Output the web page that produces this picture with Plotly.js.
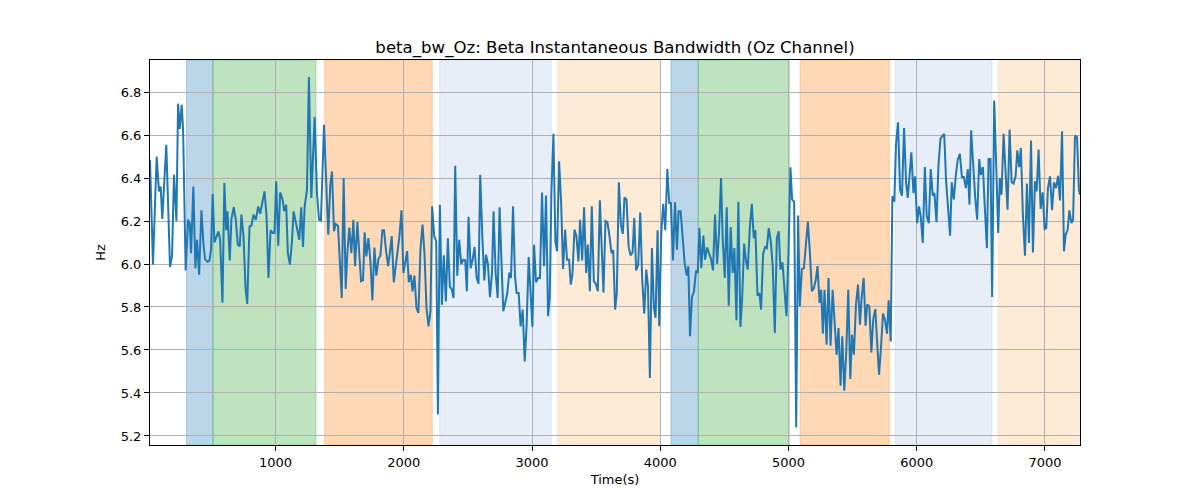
<!DOCTYPE html>
<html>
<head>
<meta charset="utf-8">
<script src="https://cdn.plot.ly/plotly-3.0.1.min.js"></script>
<style>body{margin:0}#myDiv{width:1200px;height:500px}</style>
</head>
<body>
<div id="myDiv"></div>
<script>
// time stamps (s) and bandwidth (Hz)
var timeSec = [
  21, 44, 73, 91, 104, 117, 148, 177, 193, 208, 227, 240, 253, 268, 279, 299, 318, 331, 341, 359,
  375, 388, 404, 422, 437, 450, 469, 484, 497, 510, 523, 539, 555, 568, 586, 601, 615, 625, 643, 656,
  674, 690, 706, 721, 734, 750, 766, 779, 797, 812, 828, 846, 865, 880, 898, 914, 930, 945, 961, 979,
  992, 1005, 1021, 1036, 1055, 1068, 1083, 1096, 1112, 1128, 1141, 1156, 1172, 1185, 1200, 1214, 1227, 1245,
  1260, 1279, 1305, 1323, 1339, 1354, 1378, 1396, 1411, 1427, 1440, 1456, 1469, 1487, 1500, 1516, 1531, 1547,
  1560, 1575, 1591, 1607, 1620, 1638, 1654, 1667, 1682, 1695, 1708, 1724, 1740, 1755, 1771, 1786, 1802, 1818,
  1833, 1846, 1862, 1878, 1891, 1906, 1922, 1937, 1953, 1966, 1982, 1997, 2013, 2026, 2039, 2055, 2068, 2083,
  2099, 2114, 2130, 2146, 2161, 2177, 2193, 2208, 2221, 2237, 2253, 2266, 2281, 2297, 2312, 2328, 2344, 2359,
  2375, 2388, 2401, 2417, 2432, 2448, 2464, 2479, 2492, 2505, 2521, 2536, 2552, 2568, 2583, 2596, 2612, 2628,
  2641, 2656, 2672, 2688, 2700, 2716, 2732, 2747, 2763, 2776, 2792, 2807, 2823, 2836, 2852, 2867, 2880, 2896,
  2911, 2927, 2943, 2958, 2974, 2990, 3003, 3016, 3031, 3047, 3062, 3078, 3094, 3109, 3125, 3138, 3151, 3167,
  3182, 3195, 3211, 3227, 3242, 3258, 3273, 3289, 3302, 3315, 3331, 3346, 3362, 3375, 3391, 3406, 3422, 3435,
  3451, 3466, 3482, 3497, 3513, 3529, 3544, 3557, 3573, 3588, 3604, 3620, 3633, 3648, 3661, 3677, 3693, 3708,
  3721, 3737, 3753, 3768, 3784, 3797, 3812, 3828, 3844, 3859, 3875, 3891, 3904, 3919, 3935, 3950, 3963, 3979,
  3992, 4008, 4023, 4039, 4055, 4070, 4083, 4099, 4115, 4130, 4143, 4159, 4174, 4190, 4206, 4219, 4232, 4247,
  4263, 4279, 4292, 4305, 4320, 4336, 4349, 4365, 4380, 4396, 4411, 4427, 4443, 4458, 4474, 4487, 4503, 4518,
  4534, 4549, 4565, 4578, 4594, 4609, 4625, 4638, 4654, 4667, 4682, 4698, 4714, 4729, 4742, 4758, 4773, 4786,
  4802, 4818, 4831, 4846, 4862, 4877, 4893, 4909, 4924, 4937, 4953, 4969, 4984, 5000, 5015, 5028, 5044, 5060,
  5075, 5088, 5104, 5120, 5135, 5151, 5167, 5182, 5198, 5213, 5226, 5242, 5255, 5268, 5281, 5297, 5312, 5328,
  5344, 5359, 5375, 5390, 5406, 5419, 5435, 5450, 5466, 5482, 5495, 5510, 5526, 5542, 5557, 5570, 5586, 5601,
  5614, 5630, 5646, 5661, 5677, 5690, 5706, 5721, 5737, 5752, 5768, 5781, 5797, 5810, 5825, 5838, 5854, 5870,
  5885, 5901, 5917, 5930, 5945, 5958, 5974, 5987, 6003, 6018, 6031, 6047, 6063, 6078, 6094, 6109, 6125, 6138,
  6154, 6169, 6185, 6200, 6214, 6229, 6245, 6260, 6273, 6289, 6305, 6320, 6336, 6352, 6367, 6383, 6398, 6411,
  6424, 6440, 6456, 6471, 6487, 6500, 6516, 6531, 6547, 6560, 6575, 6588, 6604, 6620, 6635, 6648, 6661, 6677,
  6693, 6708, 6724, 6740, 6755, 6771, 6784, 6799, 6812, 6828, 6844, 6859, 6875, 6891, 6906, 6922, 6935, 6950,
  6966, 6982, 6997, 7010, 7023, 7039, 7055, 7070, 7086, 7102, 7117, 7133, 7148, 7161, 7177, 7190, 7206, 7219,
  7234, 7250, 7265, 7273
];
var bandwidthHz = [
  6.485, 5.997, 6.50, 6.338, 6.36, 6.21, 6.555, 5.986, 6.04, 6.415, 6.20, 6.746, 6.628, 6.74, 6.625, 5.97, 6.206, 6.19, 6.05, 6.36,
  5.98, 6.113, 5.95, 6.25, 6.10, 6.023, 6.01, 6.015, 6.067, 6.326, 6.10, 6.13, 6.152, 6.113, 5.82, 6.377, 6.157, 6.245, 6.017, 6.21,
  6.264, 6.206, 6.09, 6.082, 6.23, 6.13, 5.888, 5.814, 6.175, 6.178, 6.23, 6.206, 6.268, 6.234, 6.30, 6.338, 6.222, 5.935, 6.157, 6.144,
  6.144, 6.385, 6.085, 6.333, 6.30, 6.245, 6.276, 6.05, 5.997, 6.105, 6.245, 6.194, 6.147, 6.113, 6.264, 6.079, 6.268, 6.345,
  6.87, 6.307, 6.684, 6.33, 6.206, 6.203, 6.648, 6.36, 6.136, 6.369, 6.43, 6.152, 6.186, 6.178, 6.02, 5.842, 6.40, 5.884,
  6.05, 6.17, 6.05, 6.206, 5.99, 6.195, 6.035, 5.92, 5.924, 6.147, 6.035, 6.12, 6.012, 5.831, 6.077, 5.946, 6.023, 6.04,
  6.157, 6.157, 6.06, 5.99, 6.05, 6.13, 5.915, 5.986, 6.054, 6.13, 6.25, 5.958, 6.012, 6.06, 5.915, 5.95, 5.873, 5.946,
  5.795, 5.772, 6.067, 6.183, 6.054, 5.795, 5.71, 5.78, 6.268, 6.13, 6.105, 5.30, 6.276, 5.81, 6.04, 5.826, 6.12, 5.896,
  5.88, 5.842, 6.457, 5.946, 6.113, 6.0, 6.02, 6.017, 5.873, 6.22, 5.98, 6.017, 6.079, 5.935, 5.908, 6.415, 6.132, 5.924,
  6.043, 6.0, 5.846, 5.958, 6.245, 5.96, 5.842, 6.264, 5.99, 5.78, 5.822, 5.865, 5.96, 5.935, 6.268, 5.946, 5.865, 5.865,
  5.71, 5.788, 5.547, 5.718, 6.032, 5.865, 5.707, 6.09, 5.915, 5.935, 5.935, 6.333, 5.99, 6.318, 5.757, 5.842, 6.33, 6.606,
  6.105, 6.059, 6.478, 6.284, 5.977, 6.16, 6.02, 6.02, 5.904, 5.95, 6.16, 6.13, 6.012, 6.206, 6.017, 6.264, 5.958, 6.09,
  5.873, 6.268, 5.92, 5.908, 5.873, 6.296, 6.02, 5.868, 6.20, 6.195, 6.13, 6.05, 6.064, 5.788, 5.865, 6.38, 6.183, 6.14,
  6.31, 6.30, 6.082, 6.04, 6.054, 6.214, 5.97, 5.997, 6.24, 5.927, 5.769, 5.974, 5.896, 5.47, 6.074, 5.80, 5.749, 6.157,
  5.71, 6.144, 6.28, 6.157, 6.442, 6.284, 6.284, 6.017, 6.287, 6.067, 6.245, 6.245, 6.13, 6.005, 5.946, 5.99, 5.664, 5.846,
  5.873, 5.97, 5.958, 6.167, 5.98, 6.132, 6.02, 6.077, 6.05, 6.023, 5.97, 6.23, 6.0, 6.147, 6.40, 6.113, 5.935, 6.264,
  5.806, 6.172, 5.958, 6.074, 5.738, 6.29, 5.707, 5.834, 6.095, 6.02, 5.974, 6.167, 6.28, 6.12, 6.157, 5.853, 5.865, 5.788,
  6.048, 6.079, 6.074, 6.167, 6.105, 5.99, 5.679, 6.12, 6.152, 5.974, 6.008, 5.873, 5.757, 6.059, 6.45, 6.30, 6.29, 5.24,
  6.225, 5.803, 5.977, 5.98, 6.082, 6.198, 6.05, 5.873, 5.888, 5.927, 5.99, 5.819, 5.88, 5.676, 5.88, 5.625, 5.935, 5.62,
  5.88, 5.726, 5.578, 5.702, 5.434, 5.664, 5.411, 5.586, 5.88, 5.465, 5.671, 5.578, 5.811, 5.904, 5.718, 5.842, 5.935, 5.713,
  5.811, 5.803, 5.589, 5.744, 5.79, 5.648, 5.485, 5.609, 5.769, 5.74, 5.676, 5.831, 5.64, 6.315, 6.29, 6.555, 6.659, 6.345,
  6.318, 6.633, 6.377, 6.307, 6.423, 6.52, 6.33, 6.408, 6.19, 6.268, 6.222, 6.098, 6.451, 6.222, 6.19, 6.442, 6.318, 6.33,
  6.194, 6.454, 6.583, 6.594, 6.606, 6.385, 6.253, 6.132, 6.38, 6.30, 6.415, 6.485, 6.513, 6.405, 6.405, 6.353, 6.442, 6.276,
  6.622, 6.44, 6.307, 6.206, 6.488, 6.415, 6.451, 6.26, 6.074, 6.488, 6.488, 5.846, 6.761, 6.454, 6.144, 6.40, 6.322, 6.606,
  6.423, 6.253, 6.625, 6.38, 6.374, 6.408, 6.529, 6.451, 6.54, 6.222, 6.039, 6.374, 6.098, 6.575, 6.054, 6.385, 6.338, 6.532,
  6.256, 6.333, 6.163, 6.167, 6.353, 6.408, 6.25, 6.38, 6.353, 6.41, 6.296, 6.617, 6.059, 6.136, 6.16, 6.25, 6.19, 6.206,
  6.597, 6.59, 6.343, 6.322
];

// shaded segments
var segStart = [306, 512, 1383, 2280, 3200, 4083, 4296, 5090, 5832, 6636];
var segEnd   = [512, 1316, 2222, 3150, 4002, 4296, 5006, 5786, 6587, 7400];
var segKind  = ['blue', 'green', 'orange', 'lightblue', 'lightorange', 'blue', 'green', 'orange', 'lightblue', 'lightorange'];

var kindColor = {
  blue: 'rgba(31,119,180,0.3)',
  green: 'rgba(44,160,44,0.3)',
  orange: 'rgba(255,127,14,0.3)',
  lightblue: 'rgba(174,199,232,0.3)',
  lightorange: 'rgba(255,187,120,0.3)'
};

var shapes = []
for (var i = 0; i < segStart.length; i++) {
  shapes.push({
    type: 'rect', xref: 'x', yref: 'paper', layer: 'below',
    x0: segStart[i], x1: segEnd[i], y0: 0, y1: 1,
    fillcolor: kindColor[segKind[i]],
    line: {width: 1, color: kindColor[segKind[i]]}
  })
}

var trace1 = {
  x: timeSec,
  y: bandwidthHz,
  type: 'scatter',
  mode: 'lines',
  line: {color: '#1f77b4', width: 2},
  hoverinfo: 'skip'
};

var font = {family: 'DejaVu Sans, sans-serif', size: 13, color: '#000'};

var layout = {
  width: 1200, height: 500,
  margin: {l: 150, r: 120, t: 60, b: 55},
  paper_bgcolor: '#fff', plot_bgcolor: '#fff',
  showlegend: false,
  font: font,
  title: {text: 'beta_bw_Oz: Beta Instantaneous Bandwidth (Oz Channel)', font: {family: 'DejaVu Sans, sans-serif', size: 16.6, color: '#000'}, x: 0.5, xref: 'paper', y: 1, yref: 'paper', yanchor: 'bottom', pad: {b: 7}},
  xaxis: {
    range: [21, 7273], tickvals: [1000, 2000, 3000, 4000, 5000, 6000, 7000],
    showgrid: true, gridcolor: '#b0b0b0', gridwidth: 1,
    showline: true, linecolor: '#000', linewidth: 1, mirror: true,
    ticks: 'outside', ticklen: 5, tickcolor: '#000', zeroline: false,
    title: {text: 'Time(s)', font: font, standoff: 6}
  },
  yaxis: {
    range: [5.158, 6.949], tickvals: [5.2, 5.4, 5.6, 5.8, 6.0, 6.2, 6.4, 6.6, 6.8], tickformat: '.1f',
    showgrid: true, gridcolor: '#b0b0b0', gridwidth: 1,
    showline: true, linecolor: '#000', linewidth: 1, mirror: true,
    ticks: 'outside', ticklen: 5, tickcolor: '#000', zeroline: false,
    title: {text: 'Hz', font: font, standoff: 12}
  },
  shapes: shapes
};

Plotly.newPlot('myDiv', [trace1], layout, {displayModeBar: false, staticPlot: true});
</script>
</body>
</html>
